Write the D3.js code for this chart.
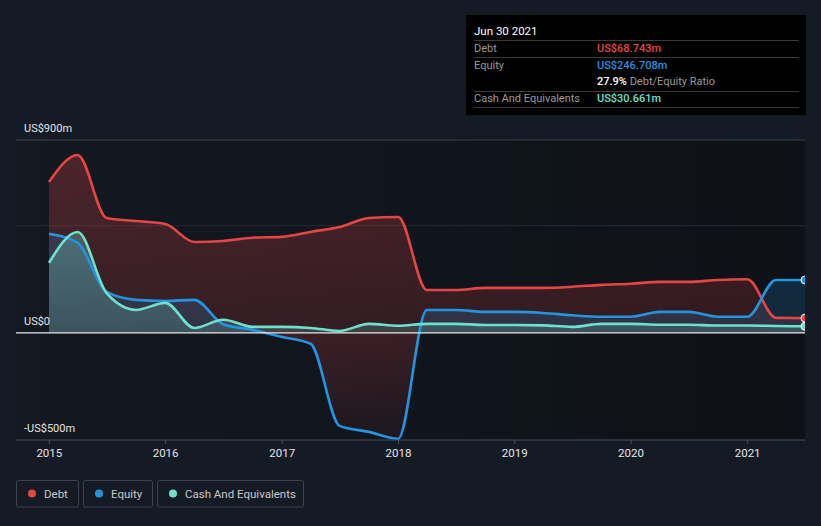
<!DOCTYPE html>
<html><head><meta charset="utf-8">
<script src="https://cdn.jsdelivr.net/npm/d3@7"></script>
<style>
html,body{margin:0;padding:0;background:#151b25;}
svg{display:block;font-family:Roboto,"Open Sans",sans-serif;}
</style></head>
<body><svg id="c" width="821" height="526"></svg>
<script>
const dates = ["2014-12-31","2015-03-31","2015-06-30","2015-09-30","2015-12-31","2016-03-31","2016-06-30","2016-09-30","2016-12-31","2017-03-31","2017-06-30","2017-09-30","2017-12-31","2018-03-31","2018-06-30","2018-09-30","2018-12-31","2019-03-31","2019-06-30","2019-09-30","2019-12-31","2020-03-31","2020-06-30","2020-09-30","2020-12-31","2021-03-31","2021-06-30"];
const debt = [704,830,536,522,508,424,429,444,448,471,494,536,541,200,200,210,210,210,215,224,229,238,238,247,250,70,68.743];
const equity = [462,420,191,154,149,154,40,14,-19,-51,-434,-462,-494,107,107,98,98,93,82,75,75,98,98,75,75,247,246.708];
const cash = [327,471,185,107,140,23,61,28,28,23,9,42,33,42,42,37,37,35,28,42,42,38,38,34,34,32,30.661];
const yTicks = [900,0,-500];
const yTickLabels = ["US$900m","US$0","-US$500m"];
const gridValues = [900,500];
const xTickYears = [2015,2016,2017,2018,2019,2020,2021];
const seriesNames = ["Debt","Equity","Cash And Equivalents"];
const colors = ["#e64545","#2394e0","#6ee0cc"];

const parse = d3.timeParse("%Y-%m-%d");
const D = dates.map(parse);
const svg = d3.select("#c");
const L = 16, R = 805, T = 140, B = 440;
const x = d3.scaleTime().domain([D[0], D[D.length-1]]).range([49, 805]);
const y = d3.scaleLinear().domain([-500, 900]).range([B, T]);

const defs = svg.append("defs");
const bgG = defs.append("linearGradient").attr("id","bgG").attr("x1",0).attr("x2",1).attr("y1",0).attr("y2",0);
bgG.append("stop").attr("offset",0).attr("stop-color","#131821");
bgG.append("stop").attr("offset",1).attr("stop-color","#0e1117");
function vgrad(id, color, o1, o2){
  const g = defs.append("linearGradient").attr("id",id).attr("gradientUnits","userSpaceOnUse")
    .attr("x1",0).attr("x2",0).attr("y1",T).attr("y2",y(0));
  g.append("stop").attr("offset",0).attr("stop-color",color).attr("stop-opacity",o1);
  g.append("stop").attr("offset",1).attr("stop-color",color).attr("stop-opacity",o2);
}
vgrad("debtG", colors[0], 0.28, 0.16);
vgrad("eqG", colors[1], 0.22, 0.18);
vgrad("cashG", colors[2], 0.45, 0.18);
const negG = defs.append("linearGradient").attr("id","negG").attr("gradientUnits","userSpaceOnUse")
  .attr("x1",0).attr("x2",0).attr("y1",y(0)).attr("y2",B);
negG.append("stop").attr("offset",0).attr("stop-color",colors[0]).attr("stop-opacity",0.2);
negG.append("stop").attr("offset",1).attr("stop-color",colors[0]).attr("stop-opacity",0.05);
defs.append("clipPath").attr("id","plotClip").append("rect").attr("x",L).attr("y",T-10).attr("width",R-L).attr("height",B-T+20);
defs.append("clipPath").attr("id","posClip").append("rect").attr("x",L).attr("y",0).attr("width",R-L).attr("height",y(0));
defs.append("clipPath").attr("id","negClip").append("rect").attr("x",L).attr("y",y(0)).attr("width",R-L).attr("height",B-y(0)+20);

// plot background
svg.append("rect").attr("x",L).attr("y",T).attr("width",R-L).attr("height",B-T).attr("fill","url(#bgG)");

// gridlines
svg.append("line").attr("x1",L).attr("x2",R).attr("y1",y(gridValues[0])).attr("y2",y(gridValues[0])).attr("stroke","#3c414a").attr("stroke-width",1);
svg.append("line").attr("x1",L).attr("x2",R).attr("y1",y(gridValues[1])).attr("y2",y(gridValues[1])).attr("stroke","#262b33").attr("stroke-width",1);

const curve = d3.curveMonotoneX;
const idx = d3.range(D.length);
const area = arr => d3.area().curve(curve).x(i=>x(D[i])).y0(y(0)).y1(i=>y(arr[i]));
const line = arr => d3.line().curve(curve).x(i=>x(D[i])).y(i=>y(arr[i]));

const g = svg.append("g").attr("clip-path","url(#plotClip)");
g.append("path").attr("d",area(debt)(idx)).attr("fill","url(#debtG)");
g.append("path").attr("d",area(equity)(idx)).attr("fill","url(#eqG)").attr("clip-path","url(#posClip)");
g.append("path").attr("d",area(equity)(idx)).attr("fill","url(#negG)").attr("clip-path","url(#negClip)");
g.append("path").attr("d",area(cash)(idx)).attr("fill","url(#cashG)");

// zero line
svg.append("line").attr("x1",L).attr("x2",R).attr("y1",y(0)).attr("y2",y(0)).attr("stroke","#e8e8e8").attr("stroke-width",1.2);

[[debt,0],[equity,1],[cash,2]].forEach(([arr,k])=>{
  g.append("path").attr("d",line(arr)(idx)).attr("fill","none").attr("stroke",colors[k]).attr("stroke-width",2.6).attr("stroke-linejoin","round");
});
const last = D.length-1;
[[debt,0],[equity,1],[cash,2]].forEach(([arr,k])=>{
  g.append("circle").attr("cx",x(D[last])).attr("cy",y(arr[last])).attr("r",4)
    .attr("fill",colors[k]).attr("stroke","#ffffff").attr("stroke-width",1);
});

// bottom axis
svg.append("line").attr("x1",L).attr("x2",R).attr("y1",B).attr("y2",B).attr("stroke","#4a4f57").attr("stroke-width",1);
xTickYears.forEach(yr=>{
  const xp = x(new Date(yr,0,1));
  svg.append("line").attr("x1",xp).attr("x2",xp).attr("y1",B).attr("y2",B+4).attr("stroke","#4a4f57");
  svg.append("text").attr("x",xp).attr("y",457).attr("text-anchor","middle").attr("fill","#e6e6e6").attr("font-size",11.5).text(yr);
});
// y labels
yTicks.forEach((v,i)=>{
  svg.append("text").attr("x",24).attr("y",y(v) - 8).attr("fill","#e6e6e6").attr("font-size",11).text(yTickLabels[i]);
});

// legend
const lg = [{x:16,w:62},{x:83,w:69},{x:157,w:146}];
seriesNames.forEach((n,i)=>{
  const b = lg[i];
  svg.append("rect").attr("x",b.x+0.5).attr("y",480.5).attr("width",b.w).attr("height",26.5).attr("rx",2)
    .attr("fill","none").attr("stroke","#3e434b").attr("stroke-width",1);
  svg.append("circle").attr("cx",b.x+16).attr("cy",493.5).attr("r",4).attr("fill",colors[i]);
  svg.append("text").attr("x",b.x+28).attr("y",497.5).attr("fill","#c8c8c8").attr("font-size",11.5).text(n);
});

// tooltip
const tt = svg.append("g");
tt.append("rect").attr("x",466).attr("y",15).attr("width",340).attr("height",100).attr("fill","#000");
tt.append("text").attr("x",474).attr("y",35).attr("fill","#ffffff").attr("font-size",11.5).text("Jun 30 2021");
[40,57,91,107].forEach(yy=>tt.append("line").attr("x1",474).attr("x2",799).attr("y1",yy+0.5).attr("y2",yy+0.5).attr("stroke","#3a3a3a"));
const fmt = v => "US$" + d3.format(".3f")(v) + "m";
tt.append("text").attr("x",474).attr("y",52).attr("fill","#9a9a9a").attr("font-size",11).text("Debt");
tt.append("text").attr("x",597).attr("y",52).attr("fill",colors[0]).attr("font-size",11).attr("font-weight",500).text(fmt(debt[last]));
tt.append("text").attr("x",474).attr("y",69).attr("fill","#9a9a9a").attr("font-size",11).text("Equity");
tt.append("text").attr("x",597).attr("y",69).attr("fill",colors[1]).attr("font-size",11).attr("font-weight",500).text(fmt(equity[last]));
const rt = tt.append("text").attr("x",597).attr("y",85).attr("font-size",11);
rt.append("tspan").attr("fill","#ffffff").attr("font-weight",500).text(d3.format(".1f")(debt[last]/equity[last]*100)+"%");
rt.append("tspan").attr("fill","#9a9a9a").text(" Debt/Equity Ratio");
tt.append("text").attr("x",474).attr("y",102).attr("fill","#9a9a9a").attr("font-size",11).text("Cash And Equivalents");
tt.append("text").attr("x",597).attr("y",102).attr("fill",colors[2]).attr("font-size",11).attr("font-weight",500).text(fmt(cash[last]));
</script></body></html>
